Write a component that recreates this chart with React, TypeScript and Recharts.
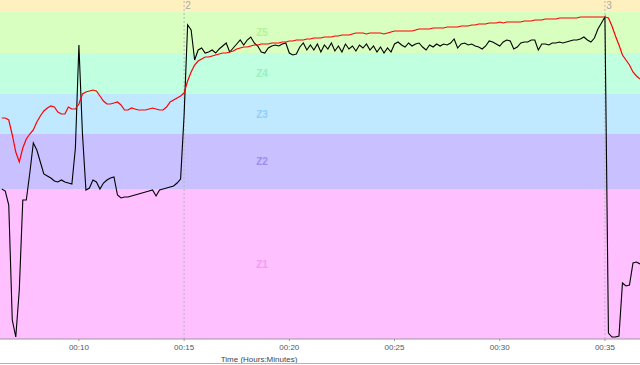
import { LineChart, Line, XAxis, YAxis, ReferenceArea, ReferenceLine } from 'recharts'

// one sample every 10 s, starting at 6:20
const startSec = 380
const stepSec = 10

const power = [
  150, 148, 134, 19, 2, 49, 139, 139, 166, 196,
  189, 177, 165, 163, 161, 158, 157, 159, 157, 156,
  155, 191, 294, 206, 149, 151, 159, 157, 150, 156,
  159, 161, 162, 144, 141, 142, 142, 143, 144, 145,
  146, 147, 148, 149, 143, 149, 150, 151, 152, 153,
  156, 160, 224, 314, 309, 279, 289, 291, 286, 287,
  289, 286, 290, 293, 296, 287, 291, 295, 299, 294,
  299, 302, 296, 293, 287, 286, 291, 293, 294, 293,
  295, 296, 286, 284, 285, 292, 296, 289, 294, 289,
  295, 287, 294, 290, 296, 288, 293, 287, 295, 290,
  293, 288, 294, 291, 295, 289, 293, 287, 292, 286,
  291, 287, 295, 297, 294, 292, 296, 293, 295, 296,
  292, 289, 294, 292, 295, 293, 295, 294, 296, 300,
  291, 295, 296, 294, 295, 293, 292, 290, 293, 298,
  297, 295, 293, 297, 299, 298, 290, 292, 296, 297,
  297, 299, 299, 289, 295, 295, 294, 296, 296, 297,
  296, 297, 298, 299, 299, 300, 302, 299, 297, 301,
  310, 316, 322, 6, 2, 2, 3, 56, 53, 54,
  76, 77, 75,
]

const heartRate = [
  221, 221, 219, 204, 187, 177, 191, 200, 205, 209,
  217, 223, 228, 231, 233, 232, 227, 225, 225, 232,
  230, 230, 235, 245, 247, 248, 249, 248, 243, 238,
  235, 235, 236, 237, 234, 229, 229, 231, 230, 229,
  229, 229, 230, 231, 230, 229, 229, 232, 237, 239,
  241, 243, 246, 258, 267, 274, 278, 280, 282, 282,
  283, 284, 285, 286, 286, 287, 288, 290, 291, 292,
  292, 293, 294, 294, 295, 295, 295, 296, 296, 296,
  297, 297, 298, 298, 299, 299, 299, 300, 300, 301,
  301, 301, 302, 302, 302, 303, 303, 304, 304, 304,
  305, 306, 306, 306, 305, 306, 306, 306, 306, 305,
  306, 307, 308, 308, 308, 308, 308, 308, 309, 310,
  310, 310, 310, 311, 311, 311, 311, 312, 312, 312,
  312, 313, 313, 313, 314, 314, 315, 315, 315, 316,
  316, 316, 317, 316, 317, 317, 317, 317, 317, 318,
  318, 318, 319, 319, 319, 320, 320, 320, 320, 321,
  321, 321, 321, 321, 321, 322, 322, 322, 322, 322,
  322, 322, 322, 321, 313, 303, 294, 284, 279, 274,
  267, 263, 260,
]

const zones = [
  { name: 'Z1', from: 0, to: 150, fill: '#ffc0ff', text: '#f39cf3' },
  { name: 'Z2', from: 150, to: 205, fill: '#c8c0ff', text: '#9b8ef2' },
  { name: 'Z3', from: 205, to: 245, fill: '#c0e8ff', text: '#8fd0fa' },
  { name: 'Z4', from: 245, to: 286, fill: '#c0ffe0', text: '#98f0c0' },
  { name: 'Z5', from: 286, to: 327, fill: '#d8ffc0', text: '#b4f29a' },
  { name: '', from: 327, to: 339, fill: '#fff0c0', text: '#fff0c0' },
]

const laps = [
  { t: 900, label: '2' },
  { t: 2100, label: '3' },
]

const ticks = [600, 900, 1200, 1500, 1800, 2100]

const data = power.map((p, i) => ({
  t: startSec + i * stepSec,
  power: p,
  hr: heartRate[i],
}))

const fmtTime = (s: number) => {
  const m = Math.round(s / 60)
  return `00:${String(m).padStart(2, '0')}`
}

const font = '"Liberation Sans", Arial, sans-serif'

function zoneLabel(name: string, color: string) {
  return (props: any) => {
    const vb = props.viewBox || {}
    if (!name) return null
    return (
      <text
        x={(vb.x ?? 0) + 262}
        y={(vb.y ?? 0) + vb.height / 2}
        textAnchor="middle"
        dominantBaseline="central"
        fontFamily={font}
        fontWeight="bold"
        fontSize={10}
        fill={color}
      >
        {name}
      </text>
    )
  }
}

function lapLabel(text: string) {
  return (props: any) => {
    const vb = props.viewBox || {}
    return (
      <text x={(vb.x ?? 0) + 4} y={9} textAnchor="middle" fontFamily={font} fontSize={10} fill="#a8a8a8">
        {text}
      </text>
    )
  }
}

export default function App() {
  return (
    <div style={{ position: 'absolute', left: 0, top: 0, width: 640, height: 365, background: '#fff' }}>
      <div style={{ width: 640, height: 363, borderBottom: '1px solid #b4b4b4' }}>
        <LineChart
          width={640}
          height={363}
          data={data}
          margin={{ top: 0, right: 0, left: 0, bottom: 0 }}
          accessibilityLayer={false}
        >
          {zones.map((z) => (
            <ReferenceArea
              key={z.from}
              y1={z.from}
              y2={z.to}
              fill={z.fill}
              fillOpacity={1}
              stroke="none"
              label={zoneLabel(z.name, z.text)}
            />
          ))}
          {laps.map((l) => (
            <ReferenceLine
              key={l.t}
              x={l.t}
              stroke="#b8b8b8"
              strokeDasharray="2 2"
              label={lapLabel(l.label)}
            />
          ))}
          <XAxis
            dataKey="t"
            type="number"
            domain={[375, 2200]}
            allowDataOverflow
            ticks={ticks}
            tickFormatter={fmtTime}
            height={24}
            tickSize={2}
            tickMargin={3}
            stroke="#9a9a9a"
            tick={{ fontSize: 8, fill: '#4d5a66', fontFamily: font }}
            label={{
              value: 'Time (Hours:Minutes)',
              position: 'insideBottom',
              offset: 1,
              dx: -61,
              fontSize: 8,
              fill: '#3c4650',
              fontFamily: font,
            }}
          />
          <YAxis hide domain={[0, 339]} allowDataOverflow />
          <Line
            dataKey="power"
            type="linear"
            stroke="#000"
            strokeWidth={1.1}
            dot={false}
            activeDot={false}
            isAnimationActive={false}
          />
          <Line
            dataKey="hr"
            type="linear"
            stroke="#ff0000"
            strokeWidth={1.2}
            dot={false}
            activeDot={false}
            isAnimationActive={false}
          />
        </LineChart>
      </div>
    </div>
  )
}
